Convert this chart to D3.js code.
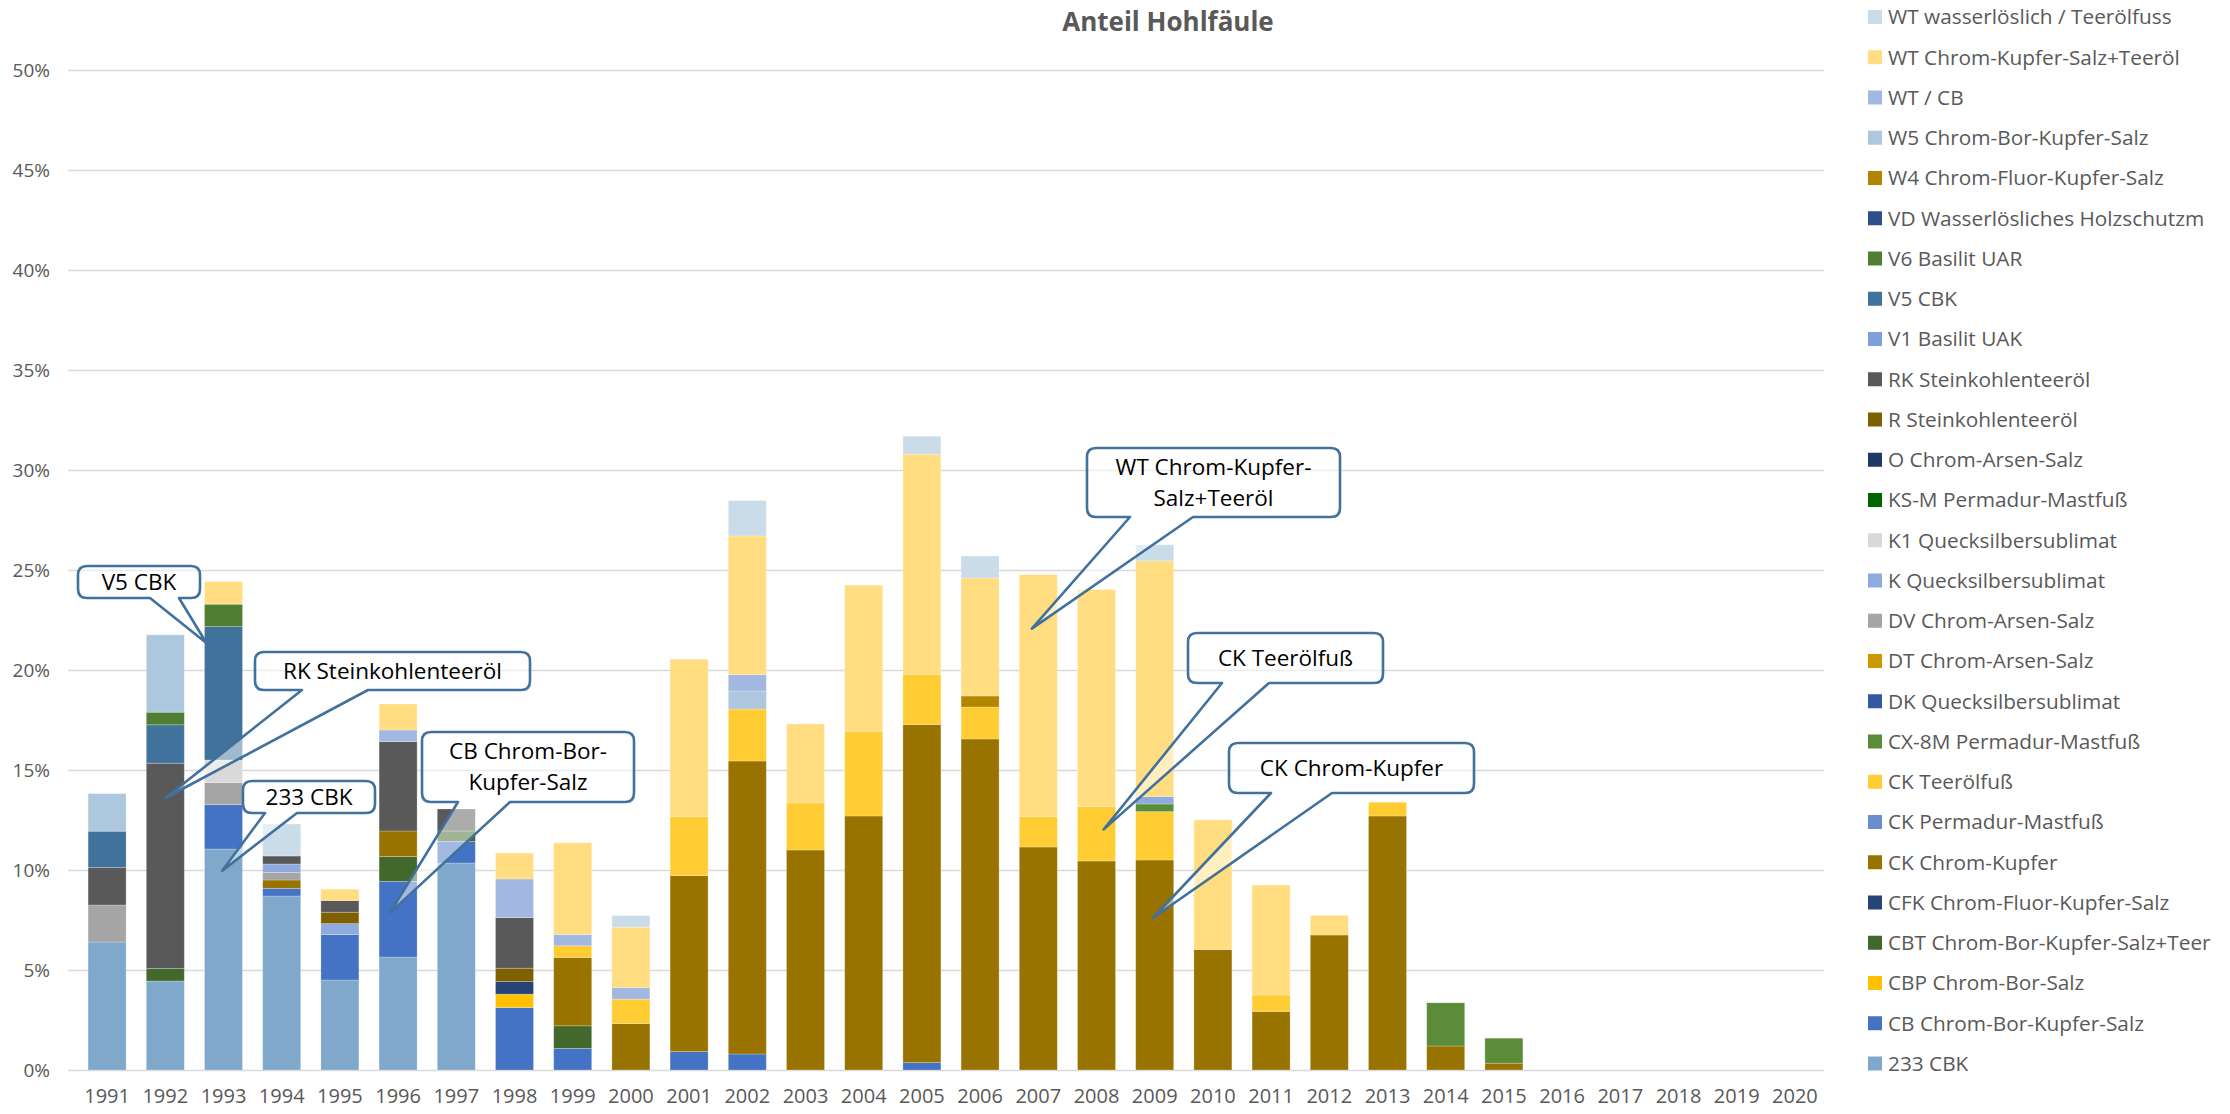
<!DOCTYPE html>
<html>
<head>
<meta charset="utf-8">
<script src="https://cdn.jsdelivr.net/npm/d3@7"></script>
<style>
  body { margin: 0; background: #fff; }
  svg { display: block; font-family: "Open Sans", "Liberation Sans", sans-serif; }
</style>
</head>
<body>
<svg id="chart" width="2230" height="1114"></svg>
<script>
// Anteil Hohlfäule - stacked bars per year, one series per Holzschutz-Typ

var years = ["1991","1992","1993","1994","1995","1996","1997","1998","1999","2000",
             "2001","2002","2003","2004","2005","2006","2007","2008","2009","2010",
             "2011","2012","2013","2014","2015","2016","2017","2018","2019","2020"];

var yTicks = [0, 5, 10, 15, 20, 25, 30, 35, 40, 45, 50];

// values in percent, 1991..2020
var cbk233     = [6.4,4.45,11.05,8.7,4.5,5.65,10.35,0,0,0, 0,0,0,0,0,0,0,0,0,0, 0,0,0,0,0,0,0,0,0,0];
var cb         = [0,0,2.22,0.38,2.27,3.78,1.08,3.12,1.08,0, 0.92,0.8,0,0,0.37,0,0,0,0,0, 0,0,0,0,0,0,0,0,0,0];
var cbp        = [0,0,0,0,0,0,0,0.67,0,0, 0,0,0,0,0,0,0,0,0,0, 0,0,0,0,0,0,0,0,0,0];
var cbt        = [0,0.62,0,0,0,1.25,0.52,0,1.13,0, 0,0,0,0,0,0,0,0,0,0, 0,0,0,0,0,0,0,0,0,0];
var cfk        = [0,0,0,0,0,0,0,0.63,0,0, 0,0,0,0,0,0,0,0,0,0, 0,0,0,0,0,0,0,0,0,0];
var ckKupfer   = [0,0,0,0.42,0,1.27,0,0,3.42,2.32, 8.8,14.65,11.0,12.7,16.9,16.55,11.15,10.45,10.5,6.02, 2.93,6.75,12.7,1.2,0.34,0,0,0,0,0];
var ckPermadur = [0,0,0,0,0,0,0,0,0,0, 0,0,0,0,0,0,0,0,0,0, 0,0,0,0,0,0,0,0,0,0];
var ckTeer     = [0,0,0,0,0,0,0,0,0.58,1.22, 2.95,2.6,2.35,4.24,2.52,1.6,1.52,2.72,2.42,0, 0.82,0,0.69,0,0,0,0,0,0,0];
var cx8m       = [0,0,0,0,0,0,0,0,0,0, 0,0,0,0,0,0,0,0,0.38,0, 0,0,0,2.16,1.25,0,0,0,0,0];
var dk         = [0,0,0,0,0,0,0,0,0,0, 0,0,0,0,0,0,0,0,0,0, 0,0,0,0,0,0,0,0,0,0];
var dt         = [0,0,0,0,0,0,0,0,0,0, 0,0,0,0,0,0,0,0,0,0, 0,0,0,0,0,0,0,0,0,0];
var dv         = [1.85,0,1.1,0.38,0,0,0,0,0,0, 0,0,0,0,0,0,0,0,0,0, 0,0,0,0,0,0,0,0,0,0];
var kQs        = [0,0,0,0.42,0.55,0,0,0,0,0, 0,0,0,0,0,0,0,0,0.37,0, 0,0,0,0,0,0,0,0,0,0];
var k1Qs       = [0,0,1.13,0,0,0,0,0,0,0, 0,0,0,0,0,0,0,0,0,0, 0,0,0,0,0,0,0,0,0,0];
var ksm        = [0,0,0,0,0,0,0,0,0,0, 0,0,0,0,0,0,0,0,0,0, 0,0,0,0,0,0,0,0,0,0];
var oArsen     = [0,0,0,0,0,0,0,0,0,0, 0,0,0,0,0,0,0,0,0,0, 0,0,0,0,0,0,0,0,0,0];
var rTeer      = [0,0,0,0,0.57,0,0,0.67,0,0, 0,0,0,0,0,0,0,0,0,0, 0,0,0,0,0,0,0,0,0,0];
var rkTeer     = [1.87,10.27,0,0.4,0.58,4.47,1.1,2.53,0,0, 0,0,0,0,0,0,0,0,0,0, 0,0,0,0,0,0,0,0,0,0];
var v1         = [0,0,0,0,0,0,0,0,0,0, 0,0,0,0,0,0,0,0,0,0, 0,0,0,0,0,0,0,0,0,0];
var v5         = [1.82,1.92,6.67,0,0,0,0,0,0,0, 0,0,0,0,0,0,0,0,0,0, 0,0,0,0,0,0,0,0,0,0];
var v6         = [0,0.63,1.12,0,0,0,0,0,0,0, 0,0,0,0,0,0,0,0,0,0, 0,0,0,0,0,0,0,0,0,0];
var vd         = [0,0,0,0,0,0,0,0,0,0, 0,0,0,0,0,0,0,0,0,0, 0,0,0,0,0,0,0,0,0,0];
var w4         = [0,0,0,0,0,0,0,0,0,0, 0,0,0,0,0,0.55,0,0,0,0, 0,0,0,0,0,0,0,0,0,0];
var w5         = [1.88,3.87,0,0,0,0,0,0,0,0, 0,0.9,0,0,0,0,0,0,0,0, 0,0,0,0,0,0,0,0,0,0];
var wtCb       = [0,0,0,0,0,0.58,0,1.93,0.57,0.58, 0,0.82,0,0,0,0,0,0,0,0, 0,0,0,0,0,0,0,0,0,0];
var wtCkTeer   = [0,0,1.13,0,0.57,1.3,0,1.3,4.58,3.02, 7.87,6.93,3.95,7.3,11.0,5.9,12.1,10.85,11.79,6.48, 5.5,0.98,0,0,0,0,0,0,0,0];
var wtWasser   = [0,0,0,1.6,0,0,0,0,0,0.58, 0,1.77,0,0,0.9,1.1,0,0,0.8,0, 0,0,0,0,0,0,0,0,0,0];

// series from bottom of stack to top
var seriesNames = [
  "233 CBK", "CB Chrom-Bor-Kupfer-Salz", "CBP Chrom-Bor-Salz", "CBT Chrom-Bor-Kupfer-Salz+Teer",
  "CFK Chrom-Fluor-Kupfer-Salz", "CK Chrom-Kupfer", "CK Permadur-Mastfuß", "CK Teerölfuß",
  "CX-8M Permadur-Mastfuß", "DK Quecksilbersublimat", "DT Chrom-Arsen-Salz", "DV Chrom-Arsen-Salz",
  "K Quecksilbersublimat", "K1 Quecksilbersublimat", "KS-M Permadur-Mastfuß", "O Chrom-Arsen-Salz",
  "R Steinkohlenteeröl", "RK Steinkohlenteeröl", "V1 Basilit UAK", "V5 CBK", "V6 Basilit UAR",
  "VD Wasserlösliches Holzschutzm", "W4 Chrom-Fluor-Kupfer-Salz", "W5 Chrom-Bor-Kupfer-Salz",
  "WT / CB", "WT Chrom-Kupfer-Salz+Teeröl", "WT wasserlöslich / Teerölfuss"
];
var seriesValues = [cbk233, cb, cbp, cbt, cfk, ckKupfer, ckPermadur, ckTeer, cx8m, dk, dt, dv,
  kQs, k1Qs, ksm, oArsen, rTeer, rkTeer, v1, v5, v6, vd, w4, w5, wtCb, wtCkTeer, wtWasser];
var seriesColors = [
  "#7FA8CB", "#4472C4", "#FFC000", "#43682B", "#264478", "#997300", "#698ED0", "#FFCD33",
  "#5B8C3A", "#335AA1", "#CC9A00", "#A5A5A5", "#8FAADC", "#D9D9D9", "#006600", "#203864",
  "#7F6000", "#595959", "#7F9FD8", "#41729B", "#507E32", "#2E4E8C", "#B48600", "#ADC8DE",
  "#A2B8E0", "#FFDD80", "#CBDCE9"
];

// callouts: tip is given in data terms (year, value, position across the bar)
var callouts = [
  { lines: ["V5 CBK"], year: "1993", value: 21.35, across: 0.05, box: [78, 566, 200, 598], base: [150, 179] },
  { lines: ["RK Steinkohlenteeröl"], year: "1992", value: 13.6, across: 0.5, box: [255, 652, 530, 690], base: [302, 368] },
  { lines: ["233 CBK"], year: "1993", value: 9.97, across: 0.47, box: [243, 781, 375, 813], base: [265, 297] },
  { lines: ["CB Chrom-Bor-", "Kupfer-Salz"], year: "1996", value: 7.87, across: 0.29, box: [422, 732, 634, 802], base: [458, 510] },
  { lines: ["WT Chrom-Kupfer-", "Salz+Teeröl"], year: "2007", value: 22.07, across: 0.33, box: [1087, 448, 1340, 517], base: [1130, 1193] },
  { lines: ["CK Teerölfuß"], year: "2008", value: 12.03, across: 0.69, box: [1188, 633, 1383, 683], base: [1222, 1269] },
  { lines: ["CK Chrom-Kupfer"], year: "2009", value: 7.6, across: 0.45, box: [1229, 743, 1474, 793], base: [1271, 1332] }
];

var svg = d3.select("#chart");
svg.append("rect").attr("width", 2230).attr("height", 1114).attr("fill", "#fff");

var plotLeft = 78, plotRight = 1824, plotTop = 70, plotBottom = 1070;

var x = d3.scaleBand()
  .domain(years)
  .range([plotLeft, plotRight])
  .paddingInner(0.347)
  .paddingOuter(0.347 / 2);

var y = d3.scaleLinear()
  .domain([0, 50])
  .range([plotBottom, plotTop]);

// gridlines
svg.append("g")
  .selectAll("line")
  .data(yTicks)
  .enter()
  .append("line")
  .attr("x1", 68)
  .attr("x2", plotRight)
  .attr("y1", d => Math.round(y(d)) + 0.5)
  .attr("y2", d => Math.round(y(d)) + 0.5)
  .attr("stroke", "#D9D9D9")
  .attr("stroke-width", 1.6);

// y axis labels
var yAxis = svg.append("g")
  .attr("transform", "translate(50,0)")
  .call(d3.axisLeft(y).tickValues(yTicks).tickFormat(d => d + "%").tickSize(0).tickPadding(0));
yAxis.select(".domain").remove();
yAxis.selectAll("text")
  .attr("font-family", "Open Sans")
  .attr("font-size", 19)
  .attr("fill", "#595959");

// x axis labels
var xAxis = svg.append("g")
  .attr("transform", `translate(0, ${plotBottom})`)
  .call(d3.axisBottom(x).tickSize(0).tickPadding(19));
xAxis.select(".domain").remove();
xAxis.selectAll("text")
  .attr("font-family", "Open Sans")
  .attr("font-size", 20)
  .attr("fill", "#595959");

// build table and stack
var table = years.map(function (yr, i) {
  var row = { year: yr };
  seriesNames.forEach(function (name, s) { row[name] = seriesValues[s][i]; });
  return row;
});
var stacked = d3.stack().keys(seriesNames)(table);

var barsGroup = svg.append("g");
stacked.forEach(function (layer, s) {
  barsGroup.append("g")
    .attr("fill", seriesColors[s])
    .selectAll("rect")
    .data(layer.filter(d => d[1] - d[0] > 0))
    .enter()
    .append("rect")
    .attr("x", d => x(d.data.year))
    .attr("width", x.bandwidth())
    .attr("y", d => y(d[1]))
    .attr("height", d => y(d[0]) - y(d[1]))
    .attr("stroke", "#fff")
    .attr("stroke-opacity", 0.3)
    .attr("stroke-width", 0.8);
});

// title
svg.append("text")
  .attr("x", 1168)
  .attr("y", 31)
  .attr("text-anchor", "middle")
  .attr("font-family", "Open Sans")
  .attr("font-weight", "bold")
  .attr("font-size", 26)
  .attr("fill", "#595959")
  .text("Anteil Hohlfäule");

// legend, top entry is the top series
var legendRows = seriesNames.map((n, i) => ({ name: n, color: seriesColors[i] })).reverse();
var legend = svg.append("g");
var legendItem = legend.selectAll("g")
  .data(legendRows)
  .enter()
  .append("g")
  .attr("transform", (d, i) => `translate(1868, ${17 + i * 40.25})`);
legendItem.append("rect")
  .attr("x", 0)
  .attr("y", -7)
  .attr("width", 14)
  .attr("height", 14)
  .attr("fill", d => d.color);
legendItem.append("text")
  .attr("x", 20)
  .attr("y", 0)
  .attr("dy", "0.35em")
  .attr("font-size", 20.8)
  .attr("fill", "#595959")
  .text(d => d.name);

// callouts
function calloutPath(c) {
  var x0 = c.box[0], y0 = c.box[1], x1 = c.box[2], y1 = c.box[3], r = 9;
  var tx = x(c.year) + x.bandwidth() * c.across;
  var ty = y(c.value);
  return `M${x0 + r},${y0}H${x1 - r}Q${x1},${y0} ${x1},${y0 + r}V${y1 - r}Q${x1},${y1} ${x1 - r},${y1}` +
    `H${c.base[1]}L${tx},${ty}L${c.base[0]},${y1}H${x0 + r}Q${x0},${y1} ${x0},${y1 - r}V${y0 + r}Q${x0},${y0} ${x0 + r},${y0}Z`;
}

var calloutGroup = svg.append("g");
callouts.forEach(function (c) {
  var g = calloutGroup.append("g");
  g.append("path")
    .attr("d", calloutPath(c))
    .attr("fill", "#fff")
    .attr("fill-opacity", 0.5)
    .attr("stroke", "#41719C")
    .attr("stroke-width", 2.6)
    .attr("stroke-linejoin", "round");
  var cx = (c.box[0] + c.box[2]) / 2;
  var cy = (c.box[1] + c.box[3]) / 2;
  var lh = 31;
  c.lines.forEach(function (line, i) {
    g.append("text")
      .attr("x", cx)
      .attr("y", cy + (i - (c.lines.length - 1) / 2) * lh)
      .attr("dy", "0.35em")
      .attr("text-anchor", "middle")
      .attr("font-size", 22.5)
      .attr("fill", "#000")
      .text(line);
  });
});
</script>
</body>
</html>
